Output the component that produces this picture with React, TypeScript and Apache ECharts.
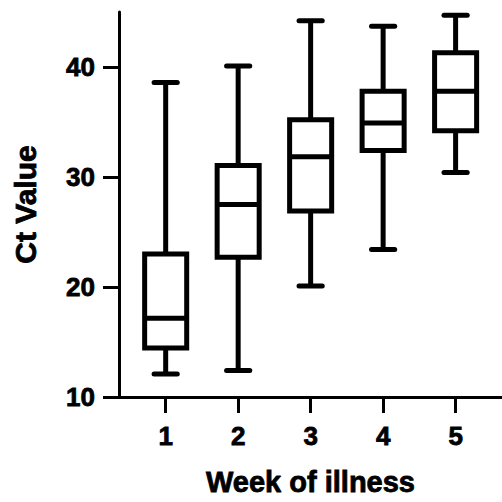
import React, { useEffect, useRef } from "react";
import * as echarts from "echarts";

const weeks = [1, 2, 3, 4, 5];
const mins = [12.1, 12.4, 20.1, 23.4, 30.4];
const q1s = [14.45, 22.7, 26.9, 32.4, 34.2];
const medians = [17.15, 27.5, 31.85, 34.9, 37.8];
const q3s = [23.0, 31.05, 35.2, 37.8, 41.3];
const maxs = [38.6, 40.1, 44.2, 43.7, 44.7];
const yTicks = [10, 20, 30, 40];

const BOX_W = 0.58;
const CAP_W = 0.32;

export default function App() {
  const ref = useRef<HTMLDivElement>(null);
  useEffect(() => {
    const chart = echarts.init(ref.current!, null, { renderer: "svg" });
    const data = weeks.map((w, i) => [w, mins[i], q1s[i], medians[i], q3s[i], maxs[i]]);
    const stroke = { stroke: "#000", lineWidth: 5, fill: "none" };
    const font = { fontFamily: "Liberation Sans", fontWeight: "bold", color: "#000", textBorderColor: "#000", textBorderWidth: 0.8 };
    chart.setOption({
      animation: false,
      grid: { left: 119, right: 0, top: 12, bottom: 105, containLabel: false },
      xAxis: {
        type: "value",
        min: 0.356,
        max: 5.64,
        name: "Week of illness",
        nameLocation: "middle",
        nameGap: 70,
        nameTextStyle: { ...font, fontSize: 29 },
        axisLine: { show: true, lineStyle: { color: "#000", width: 3 } },
        axisTick: { show: true, length: 16, customValues: weeks, lineStyle: { color: "#000", width: 3 } },
        axisLabel: { customValues: weeks, margin: 26, ...font, fontSize: 26 },
        splitLine: { show: false },
      },
      yAxis: {
        type: "value",
        min: 10,
        max: 45,
        interval: 10,
        name: "Ct Value",
        nameLocation: "middle",
        nameGap: 79,
        nameTextStyle: { ...font, fontSize: 30 },
        axisLine: { show: true, lineStyle: { color: "#000", width: 3 } },
        axisTick: { show: true, length: 16, customValues: yTicks, lineStyle: { color: "#000", width: 3 } },
        axisLabel: { customValues: yTicks, margin: 24, ...font, fontSize: 26 },
        splitLine: { show: false },
      },
      series: [
        {
          type: "custom",
          data,
          encode: { x: 0, y: [1, 2, 3, 4, 5] },
          renderItem: (params: any, api: any) => {
            const x = api.value(0);
            const pMin = api.coord([x, api.value(1)]);
            const pQ1 = api.coord([x, api.value(2)]);
            const pMed = api.coord([x, api.value(3)]);
            const pQ3 = api.coord([x, api.value(4)]);
            const pMax = api.coord([x, api.value(5)]);
            const bw = api.size([BOX_W, 0])[0];
            const cw = api.size([CAP_W, 0])[0];
            const cx = pMed[0];
            return {
              type: "group",
              children: [
                { type: "line", shape: { x1: cx, y1: pMin[1], x2: cx, y2: pQ1[1] }, style: { ...stroke } },
                { type: "line", shape: { x1: cx, y1: pQ3[1], x2: cx, y2: pMax[1] }, style: { ...stroke } },
                { type: "line", shape: { x1: cx - cw / 2, y1: pMin[1], x2: cx + cw / 2, y2: pMin[1] }, style: { ...stroke, lineCap: "round" } },
                { type: "line", shape: { x1: cx - cw / 2, y1: pMax[1], x2: cx + cw / 2, y2: pMax[1] }, style: { ...stroke, lineCap: "round" } },
                { type: "rect", shape: { x: cx - bw / 2, y: pQ3[1], width: bw, height: pQ1[1] - pQ3[1] }, style: { ...stroke, fill: "#fff", lineJoin: "miter" } },
                { type: "line", shape: { x1: cx - bw / 2, y1: pMed[1], x2: cx + bw / 2, y2: pMed[1] }, style: { ...stroke } },
              ],
            };
          },
        },
      ],
    });
    return () => chart.dispose();
  }, []);
  return (
    <div
      ref={ref}
      style={{ position: "fixed", left: 0, top: 0, width: 502, height: 502, background: "#fff" }}
    />
  );
}
